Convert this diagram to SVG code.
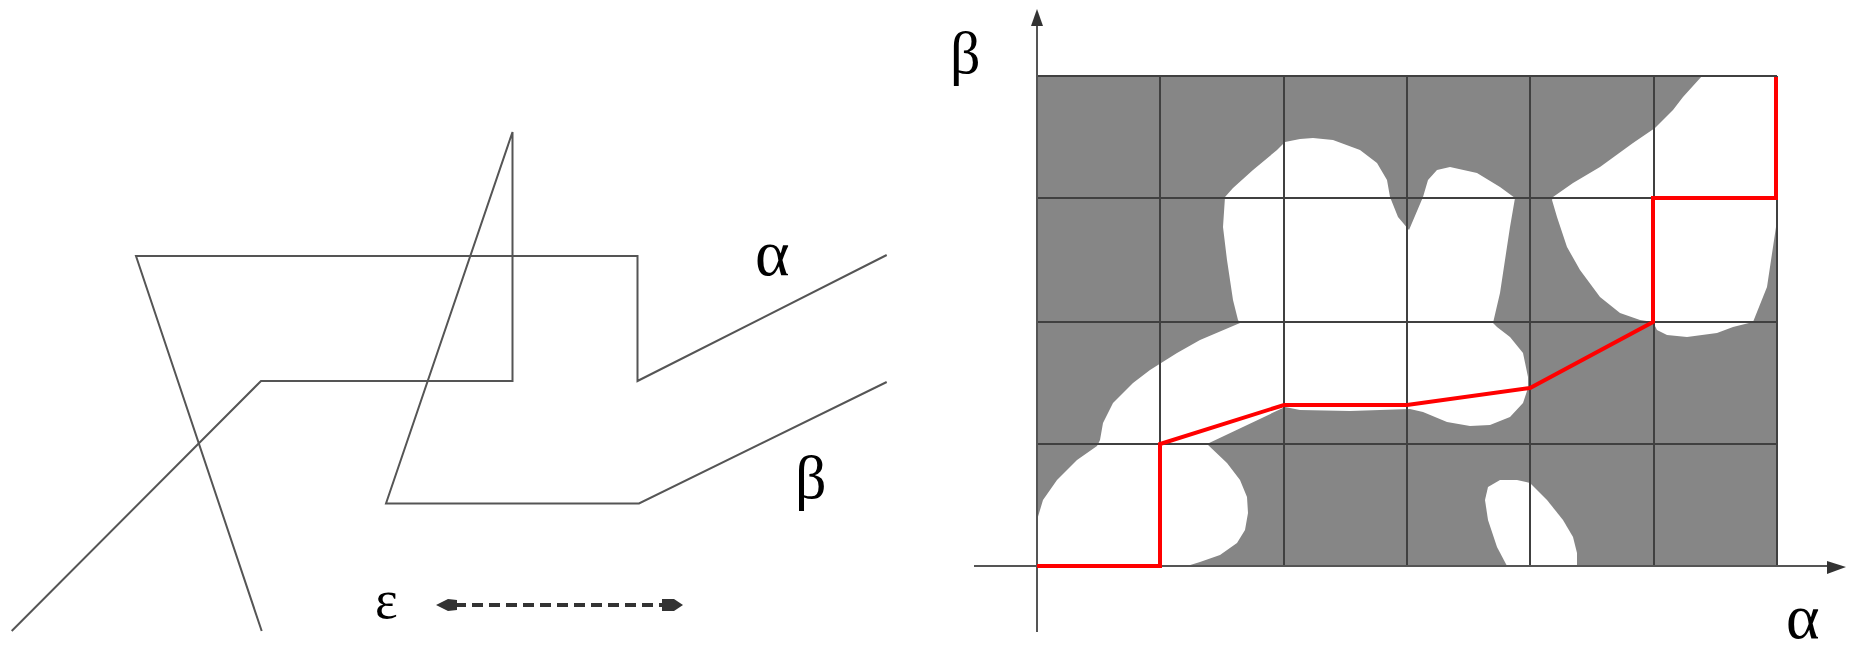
<svg xmlns="http://www.w3.org/2000/svg" width="1853" height="649" viewBox="0 0 1853 649">
<style>
.ln{fill:none;stroke:#555;stroke-width:2;stroke-linejoin:miter}
.grid{fill:none;stroke:#404040;stroke-width:2}
.ax{fill:none;stroke:#555;stroke-width:2}
.blob{fill:#fff;stroke:none}
.lbl{font-family:"Liberation Serif","Times New Roman",serif;fill:#000}
.head{fill:#333}
</style>
<rect width="1853" height="649" fill="#fff"/>
<g id="workspace">
  <g id="link-alpha">
    <polyline class="ln" points="886.7,255 637.5,381 637.5,256 136,256 261.7,631"/>
  </g>
  <g id="link-beta">
    <polyline class="ln" points="886.7,382 639,503.5 386,503.5 512.5,132 512.5,381 261,381 11.7,631"/>
  </g>
  <text id="label-alpha-left" class="lbl" x="755" y="275" font-size="66">α</text>
  <text id="label-beta-left" class="lbl" x="795" y="498" font-size="62">β</text>
  <g id="epsilon-scale">
    <text class="lbl" x="375" y="618" font-size="54">ε</text>
    <line x1="455" y1="605" x2="664" y2="605" stroke="#333" stroke-width="4" stroke-dasharray="11 6"/>
    <polygon class="head" points="436,605 448,599 457,600 457,610 448,611"/>
    <polygon class="head" points="683,605 674,599 662,599 662,611 674,611"/>
  </g>
</g>
<g id="config-space">
  <rect x="1037" y="76" width="740" height="490" fill="#868686"/>
  <path id="free-region-a" class="blob" d="M1037,566 L1037,520 L1043,500 L1057,480 L1077,460 L1097,446 L1100,440 L1103,423 L1113,403 L1133,383 L1150,370 L1177,353 L1200,340 L1240,323 L1238,320 L1233,300 L1227,260 L1223,227 L1225,197 L1233,188 L1253,170 L1277,150 L1285,142 L1300,139 L1313,138 L1333,140 L1360,150 L1377,163 L1387,180 L1390,197 L1398,217 L1409,230 L1423,197 L1428,180 L1437,170 L1450,167 L1477,173 L1500,187 L1515,198 L1510,227 L1500,293 L1493,323 L1497,327 L1510,337 L1523,353 L1528,377 L1528,388 L1523,403 L1510,417 L1490,425 L1470,426 L1447,422 L1423,412 L1410,409 L1350,411 L1300,410 L1285,407 L1207,444 L1227,463 L1240,480 L1247,497 L1248,513 L1245,530 L1237,543 L1220,555 L1200,562 L1187,566 Z"/>
  <path id="free-region-b" class="blob" d="M1702,76 L1683,97 L1673,110 L1655,128 L1633,143 L1600,167 L1573,183 L1553,197 L1552,200 L1557,217 L1567,247 L1580,270 L1600,297 L1620,313 L1640,320 L1653,322 L1657,330 L1667,335 L1687,337 L1717,333 L1733,327 L1753,322 L1767,287 L1773,247 L1776,227 L1777,76 Z"/>
  <path id="free-region-c" class="blob" d="M1507,566 L1497,547 L1488,520 L1485,500 L1488,487 L1500,480 L1517,480 L1530,483 L1547,500 L1563,520 L1573,537 L1577,553 L1577,566 Z"/>
  <g id="grid">
    <line class="grid" x1="1037" y1="76" x2="1777" y2="76"/>
    <line class="grid" x1="1037" y1="198" x2="1777" y2="198"/>
    <line class="grid" x1="1037" y1="322" x2="1777" y2="322"/>
    <line class="grid" x1="1037" y1="444" x2="1777" y2="444"/>
    <line class="grid" x1="1160" y1="76" x2="1160" y2="566"/>
    <line class="grid" x1="1284" y1="76" x2="1284" y2="566"/>
    <line class="grid" x1="1407" y1="76" x2="1407" y2="566"/>
    <line class="grid" x1="1530" y1="76" x2="1530" y2="566"/>
    <line class="grid" x1="1654" y1="76" x2="1654" y2="566"/>
    <line class="grid" x1="1777" y1="76" x2="1777" y2="566"/>
  </g>
  <g id="axes">
    <line class="ax" x1="1037" y1="20" x2="1037" y2="632"/>
    <line class="ax" x1="974" y1="566" x2="1832" y2="566"/>
    <polygon class="head" points="1037,9 1031,26 1043,26"/>
    <polygon class="head" points="1846,567 1827,561 1827,574"/>
  </g>
  <polyline id="path" fill="none" stroke="#ff0000" stroke-width="4" stroke-linejoin="miter" points="1037,566 1160,566 1160,444 1284,405 1407,405 1530,388 1653,322 1653,198 1776,198 1776,77"/>
  <text id="label-beta-axis" class="lbl" x="950" y="73" font-size="60">β</text>
  <text id="label-alpha-axis" class="lbl" x="1786" y="638" font-size="64">α</text>
</g>
</svg>
